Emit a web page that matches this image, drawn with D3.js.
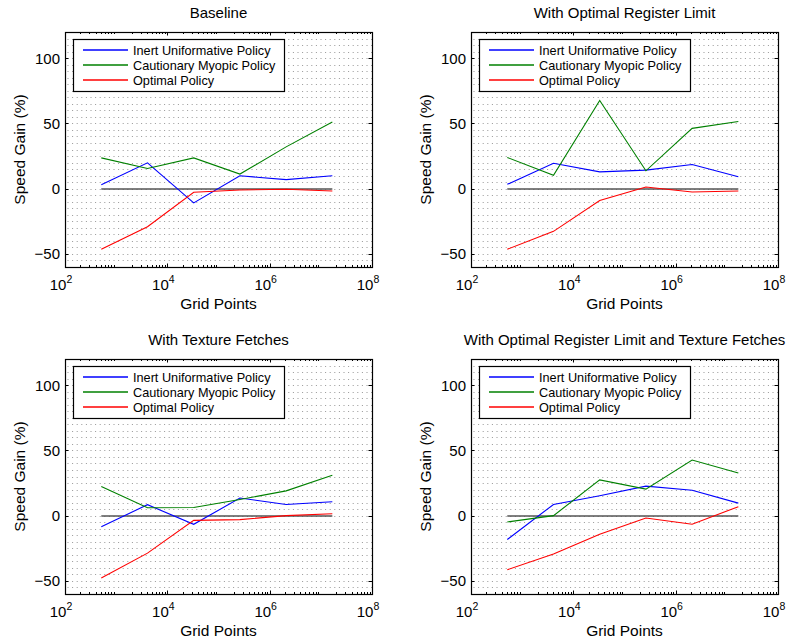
<!DOCTYPE html>
<html>
<head>
<meta charset="utf-8">
<script src="https://cdn.jsdelivr.net/npm/d3@7"></script>
<style>
  body { margin: 0; background: #fff; }
  svg { font-family: "Liberation Sans", Arial, sans-serif; }
</style>
</head>
<body>
<div id="chart"></div>
<script>
'use strict';

// grid sizes (n^3 points) on the x axis
var gridPoints = [512, 4096, 32768, 262144, 2097152, 16777216];

var panelTitles = [
    'Baseline',
    'With Optimal Register Limit',
    'With Texture Fetches',
    'With Optimal Register Limit and Texture Fetches'
];

var seriesNames = ['Inert Uniformative Policy', 'Cautionary Myopic Policy', 'Optimal Policy'];
var seriesColors = ['#0000ff', '#008000', '#ff0000'];

// one row per panel
var inertGain = [
    [3, 19.8, -10.9, 9.9, 6.9, 9.9],
    [3.3, 19.5, 12.9, 14.2, 18.5, 9.1],
    [-8.4, 8.4, -6.6, 13.5, 8.6, 10.7],
    [-18.3, 8.6, 15.2, 22.6, 19.5, 9.6]
];
var myopicGain = [
    [23.6, 15.5, 23.6, 11.2, 32, 51],
    [23.9, 10.2, 67.5, 13.7, 46.2, 51.5],
    [22.3, 6.1, 6.3, 12.4, 19, 31],
    [-4.8, 0, 27.4, 20.3, 42.6, 32.7]
];
var optimalGain = [
    [-46.4, -29.2, -2.8, -1, -0.5, -1.8],
    [-46.4, -32.7, -9.1, 1.3, -2.5, -1.8],
    [-47.7, -28.7, -3.6, -3, 0, 1.5],
    [-41.4, -29.4, -14.2, -1.8, -6.6, 6.9]
];

var xTickValues = [1e2, 1e4, 1e6, 1e8];
var xTickExponents = ['2', '4', '6', '8'];
var yTickValues = [-50, 0, 50, 100];

var panelBoxes = [
    { left: 65, top: 32 },
    { left: 471, top: 32 },
    { left: 65, top: 359 },
    { left: 471, top: 359 }
];
var plotWidth = 307;
var plotHeight = 235;

var svg = d3.select('#chart')
    .append('svg')
    .attr('width', 800)
    .attr('height', 642);

function drawPanel(i) {
    var box = panelBoxes[i];
    var g = svg.append('g').attr('transform', 'translate(' + box.left + ',' + box.top + ')');

    var x = d3.scaleLog().domain([1e2, 1e8]).range([0, plotWidth]);
    var y = d3.scaleLinear().domain([-60, 120]).range([plotHeight, 0]);

    // dotted minor grid every 5 %
    g.selectAll('.grid')
        .data(d3.range(-55, 120, 5))
        .enter()
        .append('line')
        .attr('class', 'grid')
        .attr('x1', 2.5)
        .attr('x2', plotWidth)
        .attr('y1', function (d) { return Math.round(y(d)) + 0.5; })
        .attr('y2', function (d) { return Math.round(y(d)) + 0.5; })
        .attr('stroke', '#000')
        .attr('stroke-width', 1)
        .attr('stroke-dasharray', '1,3.6')
        .attr('opacity', 0.4);

    // ticks (inward, on all four sides)
    var minor = [];
    for (var e = 2; e < 8; e++) {
        for (var m = 2; m <= 9; m++) {
            minor.push(m * Math.pow(10, e));
        }
    }
    var ticks = g.append('g').attr('stroke', '#000').attr('stroke-width', 1);
    [0, plotHeight].forEach(function (edge) {
        var dir = edge === 0 ? 1 : -1;
        minor.forEach(function (v) {
            var px = Math.round(x(v)) + 0.5;
            ticks.append('line').attr('x1', px).attr('x2', px)
                .attr('y1', edge).attr('y2', edge + dir * 2);
        });
        xTickValues.forEach(function (v) {
            var px = Math.round(x(v)) + 0.5;
            ticks.append('line').attr('x1', px).attr('x2', px)
                .attr('y1', edge).attr('y2', edge + dir * 3.5);
        });
    });
    [0, plotWidth].forEach(function (edge) {
        var dir = edge === 0 ? 1 : -1;
        yTickValues.forEach(function (v) {
            var py = Math.round(y(v)) + 0.5;
            ticks.append('line').attr('x1', edge).attr('x2', edge + dir * 3.5)
                .attr('y1', py).attr('y2', py);
        });
    });

    // zero reference line
    g.append('line')
        .attr('x1', x(gridPoints[0]))
        .attr('x2', x(gridPoints[gridPoints.length - 1]))
        .attr('y1', Math.round(y(0)))
        .attr('y2', Math.round(y(0)))
        .attr('stroke', '#555')
        .attr('stroke-width', 1.6);

    var line = d3.line()
        .x(function (d, k) { return x(gridPoints[k]); })
        .y(function (d) { return y(d); });

    [inertGain[i], myopicGain[i], optimalGain[i]].forEach(function (vals, s) {
        g.append('path')
            .attr('d', line(vals))
            .attr('fill', 'none')
            .attr('stroke', seriesColors[s])
            .attr('stroke-width', 1.1);
    });

    // axes box
    g.append('rect')
        .attr('x', 0.5).attr('y', 0.5)
        .attr('width', plotWidth).attr('height', plotHeight)
        .attr('fill', 'none')
        .attr('stroke', '#000')
        .attr('stroke-width', 1.2);

    // legend
    var leg = g.append('g').attr('transform', 'translate(8,7)');
    leg.append('rect')
        .attr('x', 0.5).attr('y', 0.5)
        .attr('width', 211).attr('height', 52)
        .attr('fill', '#fff')
        .attr('stroke', '#000')
        .attr('stroke-width', 1.2);
    seriesNames.forEach(function (name, s) {
        var ly = 11 + s * 15;
        leg.append('line')
            .attr('x1', 10).attr('x2', 55)
            .attr('y1', ly).attr('y2', ly)
            .attr('stroke', seriesColors[s])
            .attr('stroke-width', 1.6);
        leg.append('text')
            .attr('x', 60).attr('y', ly + 5)
            .attr('text-anchor', 'start')
            .attr('font-size', '12.7px')
            .attr('fill', '#000')
            .text(name);
    });

    // y tick labels
    yTickValues.forEach(function (v) {
        g.append('text')
            .attr('x', -5).attr('y', y(v) + 5.5)
            .attr('text-anchor', 'end')
            .attr('font-size', '15px')
            .text(v < 0 ? '\u2212' + Math.abs(v) : v);
    });

    // x tick labels 10^k
    xTickValues.forEach(function (v, k) {
        var t = g.append('text')
            .attr('x', x(v) - 4).attr('y', plotHeight + 23)
            .attr('text-anchor', 'middle')
            .attr('font-size', '15px');
        t.append('tspan').text('10');
        t.append('tspan')
            .attr('dy', -7).attr('font-size', '10.5px')
            .text(xTickExponents[k]);
    });

    // titles and axis labels
    g.append('text')
        .attr('x', plotWidth / 2).attr('y', -14)
        .attr('text-anchor', 'middle')
        .attr('font-size', '15px')
        .text(panelTitles[i]);

    g.append('text')
        .attr('x', plotWidth / 2).attr('y', plotHeight + 42)
        .attr('text-anchor', 'middle')
        .attr('font-size', '15.5px')
        .text('Grid Points');

    g.append('text')
        .attr('transform', 'translate(-40,' + (plotHeight / 2) + ') rotate(-90)')
        .attr('text-anchor', 'middle')
        .attr('font-size', '15.5px')
        .text('Speed Gain (%)');
}

for (var p = 0; p < 4; p++) {
    drawPanel(p);
}
</script>
</body>
</html>
